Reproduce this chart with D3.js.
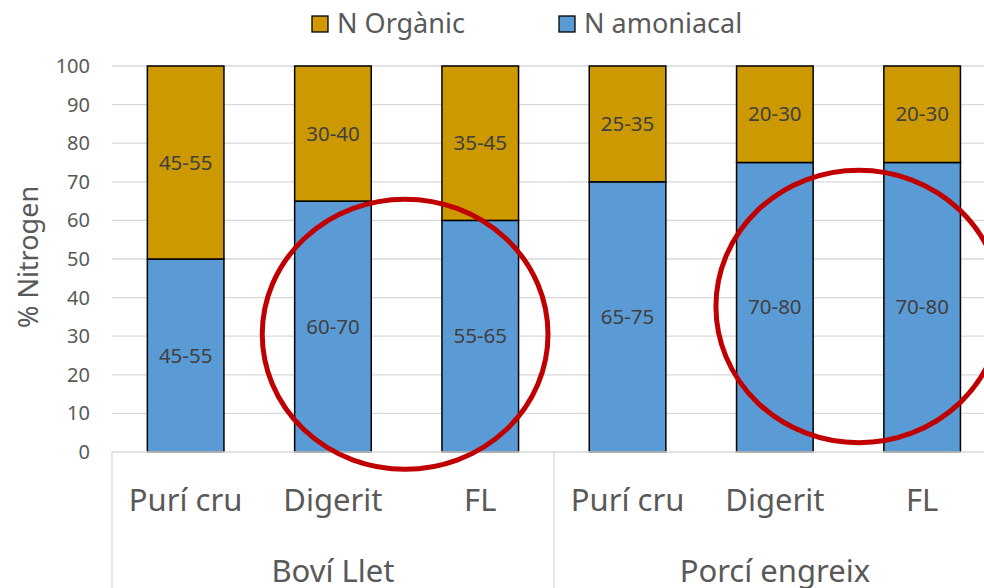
<!DOCTYPE html>
<html>
<head>
<meta charset="utf-8">
<script src="https://cdn.jsdelivr.net/npm/d3@7"></script>
<style>
  html, body { margin: 0; padding: 0; background: #fff; }
  svg { display: block; font-family: "Noto Sans", "Open Sans", sans-serif; }
</style>
</head>
<body>
<div id="chart"></div>
<script>
/* Stacked % nitrogen bars, grouped by livestock type */

const categories = ["Purí cru", "Digerit", "FL", "Purí cru", "Digerit", "FL"];
const groups = [
  { name: "Boví Llet", from: 0, to: 2 },
  { name: "Porcí engreix", from: 3, to: 5 }
];
const amoniacal = [50, 65, 60, 70, 75, 75];
const organic = [50, 35, 40, 30, 25, 25];
const amoniacalLabels = ["45-55", "60-70", "55-65", "65-75", "70-80", "70-80"];
const organicLabels = ["45-55", "30-40", "35-45", "25-35", "20-30", "20-30"];
const yTicks = [0, 10, 20, 30, 40, 50, 60, 70, 80, 90, 100];
// highlight rings: centre (category index, value), radii (bands, value units)
const rings = [
  { at: 1.49, value: 30.5, rx: 0.97, ry: 35 },
  { at: 4.57, value: 37.7, rx: 0.97, ry: 35.3 }
];

const W = 984, H = 588;
const margin = { top: 66, left: 112, bottom: 136 };
const step = 147.3;
const plotBottom = H - margin.bottom;

const svg = d3.select("#chart").append("svg")
  .attr("width", W).attr("height", H);

const x = d3.scaleBand()
  .domain(d3.range(categories.length))
  .range([margin.left, margin.left + step * categories.length])
  .padding(0);
const y = d3.scaleLinear().domain([0, 100]).range([plotBottom, margin.top]);
const barW = x.bandwidth() * 0.52;
const cx = i => x(0) + (i + 0.5) * x.step();

// gridlines
svg.append("g").selectAll("line")
  .data(yTicks.filter(d => d > 0))
  .join("line")
  .attr("x1", margin.left).attr("x2", x.range()[1])
  .attr("y1", d => y(d)).attr("y2", d => y(d))
  .attr("stroke", "#d9d9d9").attr("stroke-width", 1.3);

// y tick labels
svg.append("g").selectAll("text")
  .data(yTicks)
  .join("text")
  .attr("x", 90)
  .attr("y", d => y(d))
  .attr("dy", "0.35em")
  .attr("text-anchor", "end")
  .attr("font-size", 20)
  .attr("fill", "#595959")
  .text(d => d);

svg.append("text")
  .attr("transform", `translate(38, ${y(50) - 2}) rotate(-90)`)
  .attr("text-anchor", "middle")
  .attr("font-size", 27)
  .attr("fill", "#595959")
  .text("% Nitrogen");

// stacked bars
const rows = categories.map((c, i) => ({
  i, am: amoniacal[i], org: organic[i], amL: amoniacalLabels[i], orgL: organicLabels[i]
}));

const bars = svg.append("g");
bars.selectAll(".am")
  .data(rows)
  .join("rect")
  .attr("class", "am")
  .attr("x", d => cx(d.i) - barW / 2)
  .attr("width", barW)
  .attr("y", d => y(d.am))
  .attr("height", d => y(0) - y(d.am))
  .attr("fill", "#5b9bd5")
  .attr("stroke", "#000").attr("stroke-width", 1.5);

bars.selectAll(".org")
  .data(rows)
  .join("rect")
  .attr("class", "org")
  .attr("x", d => cx(d.i) - barW / 2)
  .attr("width", barW)
  .attr("y", d => y(d.am + d.org))
  .attr("height", d => y(d.am) - y(d.am + d.org))
  .attr("fill", "#cc9900")
  .attr("stroke", "#000").attr("stroke-width", 1.5);

// segment labels
bars.selectAll(".amL")
  .data(rows)
  .join("text")
  .attr("x", d => cx(d.i))
  .attr("y", d => y(d.am / 2))
  .attr("dy", "0.35em")
  .attr("text-anchor", "middle")
  .attr("font-size", 20.5)
  .attr("fill", "#404040")
  .text(d => d.amL);

bars.selectAll(".orgL")
  .data(rows)
  .join("text")
  .attr("x", d => cx(d.i))
  .attr("y", d => y(d.am + d.org / 2))
  .attr("dy", "0.35em")
  .attr("text-anchor", "middle")
  .attr("font-size", 20.5)
  .attr("fill", "#404040")
  .text(d => d.orgL);

// category axis with group boxes
const axis = svg.append("g").attr("stroke", "#d9d9d9").attr("stroke-width", 1.3);
axis.append("line")
  .attr("x1", margin.left).attr("x2", x.range()[1])
  .attr("y1", plotBottom).attr("y2", plotBottom);
const seps = [0, ...groups.map(g => g.to + 1)];
axis.selectAll(".sep")
  .data(seps)
  .join("line")
  .attr("x1", d => x(0) + d * x.step()).attr("x2", d => x(0) + d * x.step())
  .attr("y1", plotBottom).attr("y2", H);

svg.append("g").selectAll("text")
  .data(rows)
  .join("text")
  .attr("x", d => cx(d.i))
  .attr("y", 500)
  .attr("dy", "0.35em")
  .attr("text-anchor", "middle")
  .attr("font-size", 31)
  .attr("fill", "#595959")
  .text(d => categories[d.i]);

svg.append("g").selectAll("text")
  .data(groups)
  .join("text")
  .attr("x", g => (cx(g.from) + cx(g.to)) / 2)
  .attr("y", 571)
  .attr("dy", "0.35em")
  .attr("text-anchor", "middle")
  .attr("font-size", 31)
  .attr("fill", "#595959")
  .text(g => g.name);

// highlight rings
svg.append("g").selectAll("ellipse")
  .data(rings)
  .join("ellipse")
  .attr("cx", d => x(0) + (d.at + 0.5) * x.step())
  .attr("cy", d => y(d.value))
  .attr("rx", d => d.rx * x.step())
  .attr("ry", d => y(0) - y(d.ry))
  .attr("fill", "none")
  .attr("stroke", "#c00000")
  .attr("stroke-width", 5);

// legend
const legend = [
  { name: "N Orgànic", color: "#cc9900", x: 312 },
  { name: "N amoniacal", color: "#5b9bd5", x: 559 }
];
const lg = svg.append("g").selectAll("g")
  .data(legend)
  .join("g")
  .attr("transform", d => `translate(${d.x}, 24)`);
lg.append("rect")
  .attr("x", 0).attr("y", -8)
  .attr("width", 16).attr("height", 16)
  .attr("fill", d => d.color)
  .attr("stroke", "#000").attr("stroke-width", 1.3);
lg.append("text")
  .attr("x", 25)
  .attr("dy", "0.35em")
  .attr("font-size", 27)
  .attr("fill", "#595959")
  .text(d => d.name);
</script>
</body>
</html>
